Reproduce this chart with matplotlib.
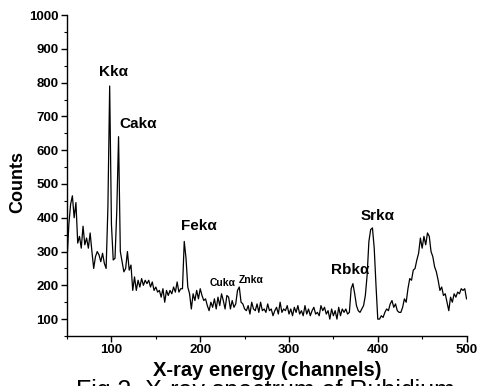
import matplotlib
matplotlib.use("Agg")
import matplotlib.pyplot as plt
from matplotlib.ticker import MultipleLocator

plt.rcParams['font.family'] = ['Liberation Sans', 'DejaVu Sans']

channels = list(range(50, 501, 2))
counts = [
    275, 380, 440, 465, 400, 445, 325, 345, 310, 375,   # 50-68
    320, 340, 310, 355, 300, 250, 285, 300, 290, 270,   # 70-88
    295, 265, 250, 430, 790, 380, 275, 280, 420, 640,   # 90-108
    300, 270, 240, 250, 300, 245, 260, 185, 225, 185,   # 110-128
    215, 195, 220, 200, 215, 205, 215, 195, 210, 185,   # 130-148
    195, 180, 185, 165, 190, 150, 185, 170, 185, 175,   # 150-168
    195, 180, 210, 180, 190, 190, 330, 280, 195, 175,   # 170-188
    130, 175, 155, 185, 160, 190, 170, 155, 160, 140,   # 190-208
    125, 150, 135, 160, 130, 165, 140, 175, 155, 130,   # 210-228
    170, 165, 130, 155, 135, 145, 185, 195, 150, 145,   # 230-248
    130, 125, 140, 115, 150, 130, 125, 145, 120, 150,   # 250-268
    125, 130, 120, 145, 125, 130, 110, 125, 135, 115,   # 270-288
    150, 120, 130, 125, 140, 115, 130, 110, 135, 120,   # 290-308
    140, 115, 125, 110, 140, 115, 130, 110, 125, 135,   # 310-328
    115, 120, 110, 140, 125, 135, 115, 125, 100, 130,   # 330-348
    110, 125, 100, 135, 110, 130, 120, 130, 115, 120,   # 350-368
    190, 205, 175, 140, 125, 120, 130, 140, 170, 230,   # 370-388
    330, 365, 370, 310, 200, 100, 100, 110, 105, 120,   # 390-408
    130, 125, 145, 155, 135, 145, 125, 120, 120, 135,   # 410-428
    160, 150, 190, 220, 215, 245, 250, 275, 295, 340,   # 430-448
    310, 345, 320, 355, 345, 300, 285, 255, 240, 215,   # 450-468
    185, 195, 170, 175, 150, 125, 165, 150, 175, 165,   # 470-488
    180, 175, 190, 185, 190, 160,                       # 490-500
]

peak_labels = ["Kk\u03b1", "Cak\u03b1", "Fek\u03b1", "Cuk\u03b1", "Znk\u03b1", "Rbk\u03b1", "Srk\u03b1"]
label_x = [102.6, 130.0, 198.3, 225.0, 257.6, 368.4, 400.2]
label_y = [830, 677, 377, 207, 216, 246, 404]
label_size = [11, 11, 11, 7.5, 7.5, 11, 11]

fig = plt.figure(figsize=(4.79, 3.86), dpi=100)
ax = fig.add_axes([0.140, 0.1295, 0.834, 0.8315])
ax.plot(channels, counts, color='black', lw=0.9)

ax.set_xlim(50, 500)
ax.set_ylim(50, 1000)
ax.xaxis.set_major_locator(MultipleLocator(100))
ax.xaxis.set_minor_locator(MultipleLocator(50))
ax.yaxis.set_major_locator(MultipleLocator(100))
ax.yaxis.set_minor_locator(MultipleLocator(50))
ax.set_yticks(range(100, 1001, 100))
ax.spines['top'].set_visible(False)
ax.spines['right'].set_visible(False)
ax.spines['left'].set_linewidth(1.0)
ax.spines['bottom'].set_linewidth(1.0)
ax.tick_params(which='major', direction='out', length=4, width=1.0, labelsize=9.5, pad=2)
ax.tick_params(which='minor', direction='out', length=2.5, width=0.8)
for lbl in ax.get_xticklabels() + ax.get_yticklabels():
    lbl.set_fontweight('bold')

ax.set_xlabel("X-ray energy (channels)", fontsize=14.5, fontweight='bold', labelpad=3)
ax.set_ylabel("Counts", fontsize=13, fontweight='bold')
ax.yaxis.set_label_coords(-0.103, 0.48)

for t, x, y, s in zip(peak_labels, label_x, label_y, label_size):
    ax.text(x, y, t, fontsize=s, fontweight='bold', ha='center', va='center')

fig.text(0.555, -0.012, "Fig.2. X-ray spectrum of Rubidium", fontsize=18, ha='center', va='center')

fig.savefig("out.png", dpi=100)
